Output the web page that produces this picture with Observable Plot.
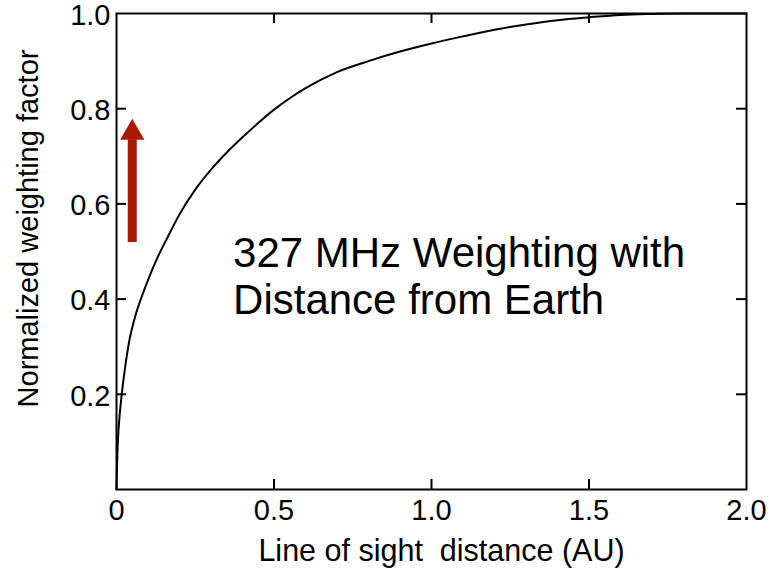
<!DOCTYPE html>
<html><head><meta charset="utf-8">
<script src="https://cdn.jsdelivr.net/npm/d3@7"></script>
<script src="https://cdn.jsdelivr.net/npm/@observablehq/plot@0.6"></script>
<style>
html,body{margin:0;padding:0;background:#fff;}
svg text{white-space:pre;}
</style></head><body><div id="chart"></div>
<script>
// Curve: line of sight distance (AU) vs normalized weighting factor
const distance = [0, 0.003, 0.008, 0.015, 0.025, 0.04, 0.06, 0.08, 0.10, 0.13, 0.16, 0.20, 0.25, 0.30, 0.35, 0.40, 0.45, 0.50, 0.55, 0.60, 0.70, 0.80, 0.90, 1.00, 1.10, 1.20, 1.30, 1.40, 1.50, 1.60, 1.70, 1.80, 2.00];
const weight   = [0, 0.08, 0.14, 0.19, 0.245, 0.31, 0.365, 0.405, 0.44, 0.487, 0.527, 0.578, 0.630, 0.672, 0.708, 0.740, 0.770, 0.798, 0.822, 0.843, 0.877, 0.900, 0.920, 0.937, 0.952, 0.966, 0.977, 0.986, 0.992, 0.997, 0.999, 1.0, 1.0];

const xTicks = [0, 0.5, 1, 1.5, 2];
const xTickLabels = ["0", "0.5", "1.0", "1.5", "2.0"];
const yTicks = [0.2, 0.4, 0.6, 0.8, 1.0];
const yTickLabels = ["0.2", "0.4", "0.6", "0.8", "1.0"];
const innerXTicks = [0.5, 1, 1.5];
const innerYTicks = [0.2, 0.4, 0.6, 0.8];

const arrowX = [0.05];
const arrowFrom = [0.519];
const arrowTo = [0.735];

const xTitle = ["Line of sight  distance (AU)"];
const yTitle = ["Normalized weighting factor"];
const noteText = ["327 MHz Weighting with\nDistance from Earth"];
const noteX = [0.37];
const noteY = [0.449];

const W = 774, H = 584, mL = 116, mR = 28, mT = 13, mB = 95, tickLen = 10;
const innerW = W - mL - mR, innerH = H - mT - mB;
const font = "'Liberation Sans', Arial, Helvetica, sans-serif";
const red = "#a81a02";

const curve = distance.map((d, i) => ({x: d, y: weight[i]}));
const arrow = arrowX.map((d, i) => ({x: d, y1: arrowFrom[i], y2: arrowTo[i]}));
const note = noteText.map((t, i) => ({t, x: noteX[i], y: noteY[i]}));

const chart = Plot.plot({
  width: W, height: H,
  marginLeft: mL, marginRight: mR, marginTop: mT, marginBottom: mB,
  style: {fontFamily: font, fontSize: "29px", color: "#000", background: "#fff", overflow: "visible"},
  x: {domain: [0, 2]},
  y: {domain: [0, 1]},
  marks: [
    Plot.tickX(innerXTicks, {x: d => d, insetTop: innerH - tickLen, stroke: "#000", strokeWidth: 2}),
    Plot.tickX(innerXTicks, {x: d => d, insetBottom: innerH - tickLen, stroke: "#000", strokeWidth: 2}),
    Plot.tickY(innerYTicks, {y: d => d, insetRight: innerW - tickLen, stroke: "#000", strokeWidth: 2}),
    Plot.tickY(innerYTicks, {y: d => d, insetLeft: innerW - tickLen, stroke: "#000", strokeWidth: 2}),
    Plot.frame({stroke: "#000", strokeWidth: 2}),
    Plot.axisX(xTicks, {tickFormat: d => xTickLabels[xTicks.indexOf(d)], tickSize: 0, tickPadding: 10, label: null, fontSize: 29}),
    Plot.axisY(yTicks, {tickFormat: d => yTickLabels[yTicks.indexOf(d)], tickSize: 0, tickPadding: 6, label: null, fontSize: 29, dy: 2}),
    Plot.text(xTitle, {text: d => d, frameAnchor: "bottom", textAnchor: "middle", dx: 10, dy: 71, fontSize: 30.5}),
    Plot.text(yTitle, {text: d => d, frameAnchor: "left", textAnchor: "middle", rotate: -90, dx: -88, dy: -23, fontSize: 29}),
    Plot.line(curve, {x: "x", y: "y", curve: "monotone-x", stroke: "#000", strokeWidth: 2}),
    Plot.ruleX(arrow, {x: "x", y1: "y1", y2: "y2", stroke: red, strokeWidth: 9}),
    Plot.dot(arrow, {x: "x", y: "y2", symbol: "triangle", r: 9, fill: red, stroke: null, dy: -7}),
    Plot.text(note, {x: "x", y: "y", text: "t", textAnchor: "start", lineAnchor: "middle", lineHeight: 1.12, fontSize: 42})
  ]
});
document.getElementById("chart").appendChild(chart);
</script>
</body></html>
